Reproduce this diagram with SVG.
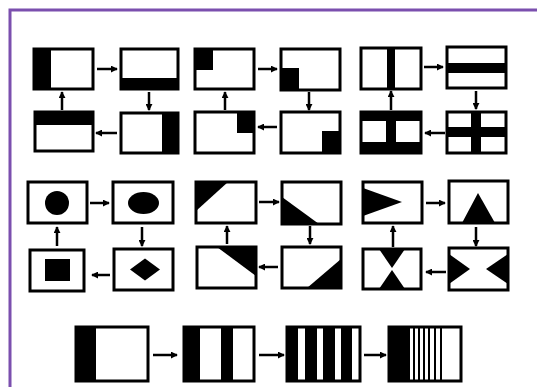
<svg xmlns="http://www.w3.org/2000/svg" width="537" height="387" viewBox="0 0 537 387">
<style>
.box{fill:none;stroke:#000;stroke-width:3}
.blk{fill:#000;stroke:none}
.arr{stroke:#000;stroke-width:2.5;fill:none;marker-end:url(#ah)}
.frame{stroke:#7b4fae;stroke-width:3;fill:none}
</style>
<defs>
<marker id="ah" viewBox="0 0 8 8" refX="7" refY="4" markerWidth="7" markerHeight="7" markerUnits="userSpaceOnUse" orient="auto">
<path d="M0,0 L8,4 L0,8 z" fill="#000"/>
</marker>
</defs>
<rect width="537" height="387" fill="#fff"/>
<g id="frame">
<path class="frame" d="M10,387 V10 H537"/>
</g>
<!-- Row 1 -->
<g id="n1"><rect class="blk" x="34" y="49" width="17" height="40"/><rect class="box" x="34" y="49" width="59" height="40"/></g>
<g id="n2"><rect class="blk" x="121" y="78" width="57" height="11"/><rect class="box" x="121" y="49" width="57" height="40"/></g>
<g id="n3"><rect class="blk" x="195" y="49" width="18" height="21"/><rect class="box" x="195" y="49" width="59" height="40"/></g>
<g id="n4"><rect class="blk" x="281" y="68" width="18" height="22"/><rect class="box" x="281" y="49" width="59" height="41"/></g>
<g id="n5"><rect class="blk" x="387" y="48" width="8" height="41"/><rect class="box" x="361" y="48" width="60" height="41"/></g>
<g id="n6"><rect class="blk" x="447" y="63" width="59" height="10"/><rect class="box" x="447" y="47" width="59" height="41"/></g>
<g id="n7"><rect class="blk" x="35" y="112" width="58" height="13"/><rect class="box" x="35" y="112" width="58" height="39"/></g>
<g id="n8"><rect class="blk" x="162" y="113" width="16" height="40"/><rect class="box" x="121" y="113" width="57" height="40"/></g>
<g id="n9"><rect class="blk" x="237" y="112" width="17" height="21"/><rect class="box" x="195" y="112" width="59" height="41"/></g>
<g id="n10"><rect class="blk" x="322" y="131" width="18" height="22"/><rect class="box" x="281" y="112" width="59" height="41"/></g>
<g id="n11"><rect class="blk" x="361" y="112" width="60" height="9"/><rect class="blk" x="361" y="142" width="60" height="11"/><rect class="blk" x="386" y="112" width="10" height="41"/><rect class="box" x="361" y="112" width="60" height="41"/></g>
<g id="n12"><rect class="blk" x="471" y="112" width="10" height="41"/><rect class="blk" x="447" y="127" width="59" height="10"/><rect class="box" x="447" y="112" width="59" height="41"/></g>
<!-- Row 2 -->
<g id="m1"><circle class="blk" cx="57" cy="203" r="12"/><rect class="box" x="28" y="182" width="59" height="41"/></g>
<g id="m2"><ellipse class="blk" cx="143.5" cy="203" rx="15.5" ry="11"/><rect class="box" x="113" y="182" width="60" height="41"/></g>
<g id="m3"><polygon class="blk" points="196,182 228,182 196,211"/><rect class="box" x="196" y="182" width="60" height="41"/></g>
<g id="m4"><polygon class="blk" points="282,197 282,224 319,224"/><rect class="box" x="282" y="182" width="59" height="42"/></g>
<g id="m5"><polygon class="blk" points="363,188 402,202 363,216"/><rect class="box" x="363" y="182" width="59" height="41"/></g>
<g id="m6"><polygon class="blk" points="478,193 495,223 462,223"/><rect class="box" x="449" y="181" width="59" height="42"/></g>
<g id="m7"><rect class="blk" x="45" y="259" width="25" height="22"/><rect class="box" x="30" y="250" width="54" height="41"/></g>
<g id="m8"><polygon class="blk" points="130,269.5 145,258.5 160,269.5 145,280.5"/><rect class="box" x="114" y="249" width="59" height="41"/></g>
<g id="m9"><polygon class="blk" points="217,247 256,247 256,276"/><rect class="box" x="197" y="247" width="59" height="41"/></g>
<g id="m10"><polygon class="blk" points="307,288 341,288 341,259"/><rect class="box" x="282" y="247" width="59" height="41"/></g>
<g id="m11"><polygon class="blk" points="379,249 405,249 392,268"/><polygon class="blk" points="379,289 405,289 392,270"/><rect class="box" x="363" y="249" width="58" height="40"/></g>
<g id="m12"><polygon class="blk" points="449,254 470,269 449,284"/><polygon class="blk" points="508,254 486,269 508,284"/><rect class="box" x="449" y="248" width="59" height="42"/></g>
<!-- Row 3 -->
<g id="s1"><rect class="blk" x="76" y="327" width="20" height="54"/><rect class="box" x="76" y="327" width="72" height="54"/></g>
<g id="s2"><rect class="blk" x="184" y="327" width="16" height="54"/><rect class="blk" x="221" y="327" width="12" height="54"/><rect class="box" x="184" y="327" width="70" height="54"/></g>
<g id="s3"><rect class="blk" x="287" y="327" width="11" height="54"/><rect class="blk" x="305" y="327" width="12" height="54"/><rect class="blk" x="323" y="327" width="12" height="54"/><rect class="blk" x="341" y="327" width="11" height="54"/><rect class="box" x="287" y="327" width="73" height="54"/></g>
<g id="s4"><rect class="blk" x="389" y="327" width="21" height="54"/><rect class="blk" x="413" y="327" width="2" height="54"/><rect class="blk" x="418" y="327" width="2" height="54"/><rect class="blk" x="423" y="327" width="2" height="54"/><rect class="blk" x="428" y="327" width="2" height="54"/><rect class="blk" x="434" y="327" width="2" height="54"/><rect class="blk" x="440" y="327" width="2" height="54"/><rect class="box" x="389" y="327" width="72" height="54"/></g>
<g id="connectors">
<path class="arr" d="M97,69 H117"/>
<path class="arr" d="M149,92 V110"/>
<path class="arr" d="M117,133 H96"/>
<path class="arr" d="M62,110 V92"/>
<path class="arr" d="M258,69 H277"/>
<path class="arr" d="M309,92 V110"/>
<path class="arr" d="M277,127 H258"/>
<path class="arr" d="M225,110 V92"/>
<path class="arr" d="M424,67 H443"/>
<path class="arr" d="M476,91 V109"/>
<path class="arr" d="M445,133 H425"/>
<path class="arr" d="M391,110 V91"/>
<path class="arr" d="M90,203 H109"/>
<path class="arr" d="M142,227 V246"/>
<path class="arr" d="M110,275 H92"/>
<path class="arr" d="M57,246 V227"/>
<path class="arr" d="M259,202 H279"/>
<path class="arr" d="M310,226 V244"/>
<path class="arr" d="M278,267 H259"/>
<path class="arr" d="M227,244 V226"/>
<path class="arr" d="M426,203 H445"/>
<path class="arr" d="M476,227 V246"/>
<path class="arr" d="M446,272 H426"/>
<path class="arr" d="M393,247 V226"/>
<path class="arr" d="M153,355 H177"/>
<path class="arr" d="M259,355 H284"/>
<path class="arr" d="M364,355 H386"/>
</g>
</svg>
